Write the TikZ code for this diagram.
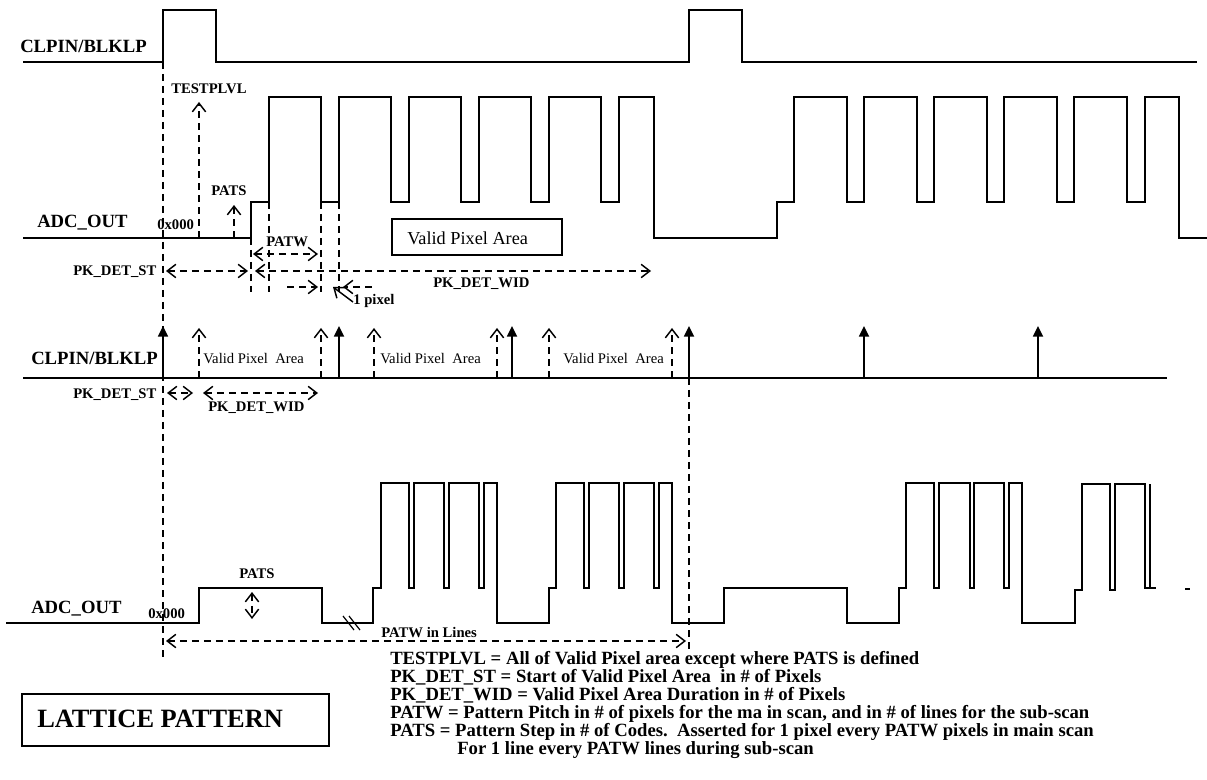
\documentclass[tikz,border=0pt]{standalone}
\usepackage{fontspec}
\setmainfont{Liberation Serif}
\usetikzlibrary{arrows.meta}

\begin{document}
\begin{tikzpicture}[
	x=0.75pt,y=-0.75pt,
	>={Straight Barb[length=6.5pt,width=10pt]},
	every node/.style={inner sep=0pt, anchor=base west},
	sig/.style={line width=1.1pt},
	dim/.style={line width=1.1pt, dash pattern=on 5.5pt off 3.5pt},
	imp/.style={line width=1.3pt, -{Triangle[length=8pt,width=7.5pt]}},
	big/.style={font=\bfseries\fontsize{14}{16}\selectfont},
	tag/.style={font=\bfseries\fontsize{11}{13}\selectfont},
	note/.style={font=\bfseries\fontsize{14}{15}\selectfont}
	]
	
	\useasboundingbox (0,0) rectangle (1207,780);
	
	% --------------------------
	% Main scan: CLPIN/BLKLP
	% --------------------------
	\node[big] (clpA) at (20,53) {CLPIN/BLKLP};
	\draw[sig] (23,62) -- (163,62) -- (163,10) -- (216,10) -- (216,62) -- (689,62)
		-- (689,10) -- (742,10) -- (742,62) -- (1197,62);
	
	% --------------------------
	% Main scan: ADC_OUT
	% --------------------------
	\node[big] (adcA) at (37,228) {ADC\_OUT};
	\node[tag] (zeroA) at (157,230) {0x000};
	\draw[sig] (23,238) -- (251,238) -- (251,202) -- (269,202)
		-- (269,97) -- (321,97) -- (321,202) -- (339,202)
		-- (339,97) -- (391,97) -- (391,202) -- (409,202)
		-- (409,97) -- (461,97) -- (461,202) -- (479,202)
		-- (479,97) -- (531,97) -- (531,202) -- (549,202)
		-- (549,97) -- (601,97) -- (601,202) -- (619,202)
		-- (619,97) -- (654,97) -- (654,238) -- (777,238) -- (777,202) -- (794,202)
		-- (794,97) -- (847,97) -- (847,202) -- (864,202)
		-- (864,97) -- (917,97) -- (917,202) -- (934,202)
		-- (934,97) -- (987,97) -- (987,202) -- (1004,202)
		-- (1004,97) -- (1057,97) -- (1057,202) -- (1074,202)
		-- (1074,97) -- (1127,97) -- (1127,202) -- (1145,202)
		-- (1145,97) -- (1179,97) -- (1179,238) -- (1207,238);
	
	% levels and pitch markers
	\node[tag] (testp) at (171,94) {TESTPLVL};
	\draw[dim,->] (199,238) -- (199,102);
	\node[tag] (patsA) at (211,196) {PATS};
	\draw[dim,->] (234,238) -- (234,205);
	
	\draw[dim] (251,202) -- (251,292);
	\draw[dim] (269,202) -- (269,292);
	\draw[dim] (321,202) -- (321,292);
	\draw[dim] (339,202) -- (339,292);
	
	\node[tag] (patwA) at (266,247) {PATW};
	\draw[dim,<->] (253,254) -- (318,254);
	
	\node[tag] (pkstA) at (73,276) {PK\_DET\_ST};
	\draw[dim,<->] (166,271) -- (248,271);
	\draw[dim,<->] (255,271) -- (651,271);
	\node[tag] (pkwidA) at (433,288) {PK\_DET\_WID};
	
	\draw[dim,->] (287,287) -- (318,287);
	\draw[dim,->] (372,287) -- (343,287);
	\draw[line width=1.1pt,->] (353,302) -- (333,287);
	\node[tag] (onepx) at (353,305) {1 pixel};
	
	% valid area box
	\draw[line width=1.1pt] (392,219) rectangle (562,255);
	\node[font=\fontsize{13.7}{16}\selectfont] (vpaBox) at (407,245) {Valid Pixel Area};
	
	% --------------------------
	% Sub-scan: CLPIN/BLKLP
	% --------------------------
	\node[big] (clpB) at (31,365) {CLPIN/BLKLP};
	\draw[sig] (23,378) -- (1167,378);
	
	\draw[imp] (163,378) -- (163,326);
	\draw[imp] (339,378) -- (339,326);
	\draw[imp] (512,378) -- (512,326);
	\draw[imp] (689,378) -- (689,326);
	\draw[imp] (864,378) -- (864,326);
	\draw[imp] (1038,378) -- (1038,326);
	
	\draw[dim,->] (199,378) -- (199,328);
	\draw[dim,->] (321,378) -- (321,328);
	\draw[dim,->] (374,378) -- (374,328);
	\draw[dim,->] (497,378) -- (497,328);
	\draw[dim,->] (549,378) -- (549,328);
	\draw[dim,->] (672,378) -- (672,328);
	
	\node[font=\fontsize{11}{13}\selectfont] (vpa1) at (203,364) {Valid Pixel\ \ Area};
	\node[font=\fontsize{11}{13}\selectfont] (vpa2) at (380,364) {Valid Pixel\ \ Area};
	\node[font=\fontsize{11}{13}\selectfont] (vpa3) at (563,364) {Valid Pixel\ \ Area};
	
	\node[tag] (pkstB) at (73,399) {PK\_DET\_ST};
	\draw[dim,<->] (167,393) -- (193,393);
	\draw[dim,<->] (203,393) -- (318,393);
	\node[tag] (pkwidB) at (208,412) {PK\_DET\_WID};
	
	% --------------------------
	% Sub-scan: ADC_OUT
	% --------------------------
	\node[big] (adcB) at (31,613) {ADC\_OUT};
	\node[tag] (zeroB) at (148,618) {0x000};
	\draw[sig] (6,623) -- (199,623) -- (199,588) -- (322,588) -- (322,623) -- (373,623)
		-- (373,588) -- (381,588) -- (381,483) -- (409,483) -- (409,588) -- (414,588)
		-- (414,483) -- (444,483) -- (444,588) -- (449,588) -- (449,483) -- (479,483)
		-- (479,588) -- (484,588) -- (484,483) -- (497,483) -- (497,623) -- (549,623)
		-- (549,588) -- (556,588) -- (556,483) -- (584,483) -- (584,588) -- (589,588)
		-- (589,483) -- (619,483) -- (619,588) -- (624,588) -- (624,483) -- (654,483)
		-- (654,588) -- (659,588) -- (659,483) -- (672,483) -- (672,623) -- (724,623)
		-- (724,588) -- (847,588) -- (847,623) -- (899,623) -- (899,588) -- (906,588)
		-- (906,483) -- (934,483) -- (934,588) -- (939,588) -- (939,483) -- (970,483)
		-- (970,588) -- (974,588) -- (974,483) -- (1004,483) -- (1004,588) -- (1009,588)
		-- (1009,483) -- (1022,483) -- (1022,623) -- (1075,623) -- (1075,590) -- (1082,590)
		-- (1082,484) -- (1110,484) -- (1110,590) -- (1115,590) -- (1115,484) -- (1145,484)
		-- (1145,588) -- (1150,588) -- (1150,484);
	\draw[sig] (1150,588) -- (1156,588);
	\draw[sig] (1185,589) -- (1190,589);
	
	% break in the line count
	\draw[line width=0.9pt] (343,616) -- (354,630);
	\draw[line width=0.9pt] (349,616) -- (360,630);
	
	\node[tag] (patsB) at (239,578) {PATS};
	\draw[dim,<->] (252,592) -- (252,619);
	
	% long guides and line pitch
	\draw[dim] (163,62) -- (163,661);
	\draw[dim] (689,378) -- (689,650);
	\draw[dim,<->] (166,641) -- (686,641);
	\node[tag] (patwL) at (381,637) {PATW in Lines};
	
	% --------------------------
	% Legend
	% --------------------------
	\node[note] (def1) at (390,664) {TESTPLVL = All of Valid Pixel area except where PATS is defined};
	\node[note] (def2) at (390,682) {PK\_DET\_ST = Start of Valid Pixel Area\ \ in \# of Pixels};
	\node[note] (def3) at (390,700) {PK\_DET\_WID = Valid Pixel Area Duration in \# of Pixels};
	\node[note] (def4) at (390,718) {PATW = Pattern Pitch in \# of pixels for the ma in scan, and in \# of lines for the sub-scan};
	\node[note] (def5) at (390,736) {PATS = Pattern Step in \# of Codes.\ \ Asserted for 1 pixel every PATW pixels in main scan};
	\node[note] (def6) at (457,754) {For 1 line every PATW lines during sub-scan};
	
	\draw[line width=1.1pt] (22,694) rectangle (329,746);
	\node[font=\bfseries\fontsize{19.8}{22}\selectfont] (latt) at (37,727) {LATTICE PATTERN};
	
\end{tikzpicture}
\end{document}
